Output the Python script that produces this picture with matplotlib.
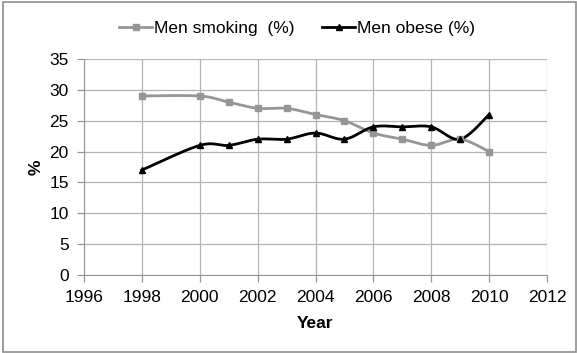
import numpy as np
import matplotlib
matplotlib.use("Agg")
import matplotlib.pyplot as plt
from matplotlib.patches import Rectangle

plt.rcParams['font.family'] = ['Liberation Sans', 'DejaVu Sans']

# data
years = [1998, 2000, 2001, 2002, 2003, 2004, 2005, 2006, 2007, 2008, 2009, 2010]
smoking = [29, 29, 28, 27, 27, 26, 25, 23, 22, 21, 22, 20]
obese = [17, 21, 21, 22, 22, 23, 22, 24, 24, 24, 22, 26]


# Excel-style smoothed line: cubic bezier through the points
def smooth(x, y, n=20):
    p = np.column_stack([x, y]).astype(float)
    out = [p[0]]
    for i in range(len(p) - 1):
        p0 = p[i - 1] if i > 0 else p[i]
        p1, p2 = p[i], p[i + 1]
        p3 = p[i + 2] if i + 2 < len(p) else p[i + 1]
        c1 = p1 + (p2 - p0) / 6
        c2 = p2 - (p3 - p1) / 6
        t = np.linspace(0, 1, n)[1:, None]
        seg = ((1 - t) ** 3) * p1 + 3 * ((1 - t) ** 2) * t * c1 + 3 * (1 - t) * t ** 2 * c2 + t ** 3 * p2
        out.extend(seg)
    out = np.array(out)
    return out[:, 0], out[:, 1]


fig = plt.figure(figsize=(5.77, 3.53), dpi=100)
ax = fig.add_axes([0.1456, 0.221, 0.8024, 0.612])

gray = '#969696'
fs = 12.5
sx, sy = smooth(years, smoking)
ox, oy = smooth(years, obese)
ax.plot(sx, sy, color=gray, lw=2.0, zorder=3)
ax.plot(years, smoking, ls='none', marker='s', ms=4.5, color=gray, zorder=4)
ax.plot(ox, oy, color='black', lw=2.0, zorder=3)
ax.plot(years, obese, ls='none', marker='^', ms=5, color='black', zorder=4)

# legend handles
ax.plot([], [], color=gray, lw=2.0, marker='s', ms=4.5, label='Men smoking  (%)')
ax.plot([], [], color='black', lw=2.0, marker='^', ms=5, label='Men obese (%)')
ax.legend(loc='center', bbox_to_anchor=(0.46, 1.142), ncol=2, frameon=False,
          fontsize=fs, handlelength=1.9, handletextpad=0.1, columnspacing=1.6,
          borderpad=0.2)

ax.set_xlim(1996, 2012)
ax.set_ylim(0, 35)
ax.set_xticks(range(1996, 2013, 2))
ax.set_yticks(range(0, 36, 5))
ax.grid(True, color='#b3b3b3', lw=0.9)
ax.set_axisbelow(True)
for s in ['top', 'right']:
    ax.spines[s].set_visible(False)
for s in ['left', 'bottom']:
    ax.spines[s].set_color('#969696')
ax.tick_params(colors='#969696', labelcolor='black', labelsize=fs, length=5, width=0.9)
ax.tick_params(axis='x', pad=5.5)
ax.tick_params(axis='y', pad=6)
ax.set_xlabel('Year', fontsize=fs, fontweight='bold', labelpad=8)
ax.set_ylabel('%', fontsize=fs, fontweight='bold', labelpad=4)

# outer chart border
fig.patches.append(Rectangle((0.006, 0.004), 0.992, 0.99, transform=fig.transFigure,
                             fill=False, edgecolor='#8c8c8c', lw=1.2))

fig.savefig('out.png', dpi=100)
